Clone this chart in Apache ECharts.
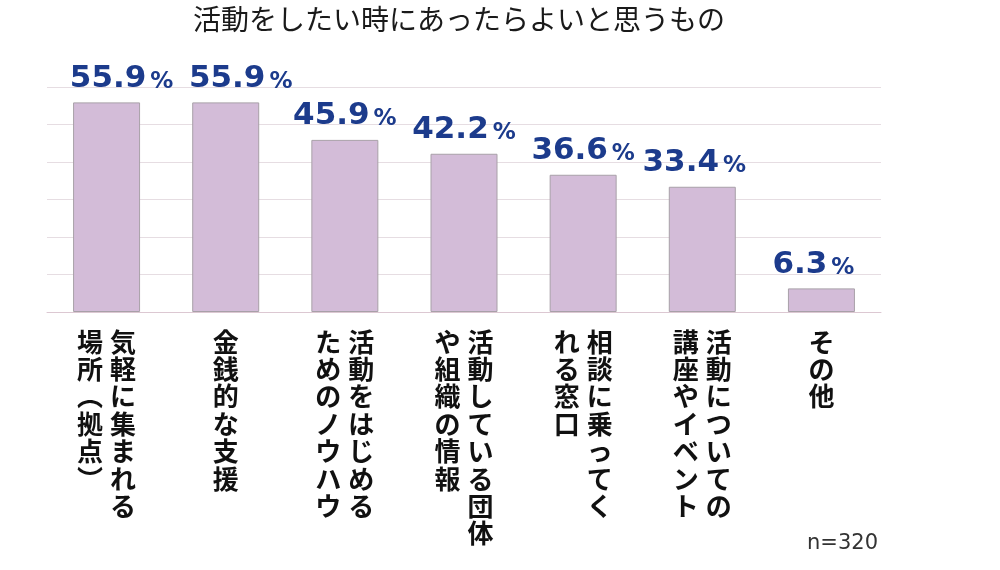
<!DOCTYPE html>
<html>
<head>
<meta charset="utf-8">
<script src="https://cdn.jsdelivr.net/npm/echarts@6/dist/echarts.min.js"></script>
<style>html,body{margin:0;padding:0;background:#fff}#c{width:1000px;height:570px}</style>
</head>
<body>
<div id="c"></div>
<script>
// Categories: columns of vertical text separated by '\n' (first = rightmost column)
const categories = [
  '気軽に集まれる\n場所︵拠点︶',
  '金銭的な支援',
  '活動をはじめる\nためのノウハウ',
  '活動している団体\nや組織の情報',
  '相談に乗ってく\nれる窓口',
  '活動についての\n講座やイベント',
  'その他'
];
const values = [55.9, 55.9, 45.9, 42.2, 36.6, 33.4, 6.3];
const titleText = '活動をしたい時にあったらよいと思うもの';
const noteText = 'n=320';

const labelShift = [15, 15, 0, 0, 0, -8, -8];

function vertical(label) {
  const cols = label.split('\n').map(c => [...c]);
  const n = Math.max(...cols.map(c => c.length));
  const lines = [];
  for (let i = 0; i < n; i++) {
    const parts = [];
    for (let j = cols.length - 1; j >= 0; j--) {
      const ch = cols[j][i];
      parts.push('{c|' + (ch ? ch : '\u3000') + '}');
      if (j > 0) parts.push('{s| }');
    }
    lines.push(parts.join(''));
  }
  return lines.join('\n');
}

const chart = echarts.init(document.getElementById('c'));
chart.setOption({
  animation: false,
  backgroundColor: '#ffffff',
  title: {
    text: titleText,
    left: 188,
    top: 0,
    textStyle: {fontFamily: 'Noto Sans CJK JP', fontSize: 28, fontWeight: 'normal', color: '#1a1a1a'}
  },
  grid: {left: 47, right: 119, top: 87, bottom: 258},
  xAxis: {
    type: 'category',
    data: categories,
    axisTick: {show: false},
    axisLine: {lineStyle: {color: '#dcc8d2', width: 1}},
    axisLabel: {
      interval: 0,
      margin: 16,
      formatter: vertical,
      rich: {
        c: {fontFamily: 'Noto Sans CJK JP', fontSize: 26, fontWeight: 'bold', color: '#111', width: 26, align: 'center', lineHeight: 27.4},
        s: {width: 7, fontSize: 10, lineHeight: 27.4}
      }
    }
  },
  yAxis: {
    type: 'value',
    min: 0, max: 60, interval: 10,
    axisLabel: {show: false},
    axisLine: {show: false},
    axisTick: {show: false},
    splitLine: {lineStyle: {color: '#e6dde2', width: 1}}
  },
  series: [{
    type: 'bar',
    barWidth: 67,
    data: values.map((v, i) => ({value: v, label: {offset: [labelShift[i], 0]}})),
    itemStyle: {color: '#d3bcd8', borderColor: '#a8a0a8', borderWidth: 1},
    label: {
      show: true,
      position: 'top',
      distance: 8,
      formatter: p => '{n|' + p.value.toFixed(1) + '}{p|%}',
      rich: {
        n: {fontFamily: 'DejaVu Sans', fontWeight: 'bold', fontSize: 31, color: '#1c3b8c', verticalAlign: 'bottom'},
        p: {fontFamily: 'DejaVu Sans', fontWeight: 'bold', fontSize: 23, color: '#1c3b8c', verticalAlign: 'bottom', padding: [0, 0, 1, 4]}
      }
    }
  }],
  graphic: [{
    type: 'text',
    right: 122,
    top: 533,
    style: {text: noteText, fontFamily: 'DejaVu Sans', fontSize: 21, fill: '#333'}
  }]
});
</script>
</body>
</html>
